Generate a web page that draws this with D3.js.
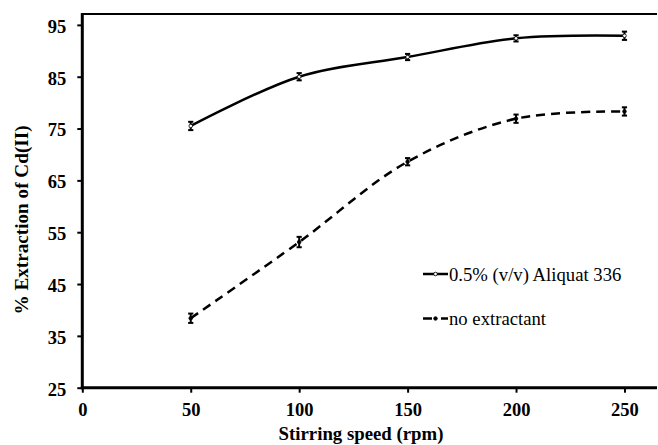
<!DOCTYPE html>
<html>
<head>
<meta charset="utf-8">
<script src="https://cdn.jsdelivr.net/npm/d3@7"></script>
<style>
  html, body { margin: 0; padding: 0; background: #fff; }
  svg { display: block; }
</style>
</head>
<body>
<svg id="chart" width="658" height="445"></svg>
<script>
// Stirring speed (rpm) and % extraction of Cd(II)
const speeds = [50, 100, 150, 200, 250];
const aliquat = [75.5, 85.0, 88.8, 92.4, 92.9];
const aliquatErr = [0.8, 0.7, 0.6, 0.6, 0.8];
const noExtractant = [38.4, 53.1, 68.6, 76.9, 78.3];
const noExtractantErr = [0.9, 1.0, 0.7, 0.8, 0.8];
const xTicks = [0, 50, 100, 150, 200, 250];
const yTicks = [25, 35, 45, 55, 65, 75, 85, 95];
const seriesNames = ["0.5% (v/v) Aliquat 336", "no extractant"];

const svg = d3.select("#chart");
const plotLeft = 82.3, plotRight = 657, plotTop = 14, plotBottom = 387.7;

const x = d3.scaleLinear().domain([0, 265]).range([plotLeft, plotRight]);
const y = d3.scaleLinear().domain([25, 97.1]).range([plotBottom, plotTop]);

const serif = '"Liberation Serif", "Times New Roman", serif';

// Plot frame: top border and axes
svg.append("line").attr("x1", plotLeft).attr("x2", plotRight).attr("y1", plotTop).attr("y2", plotTop)
  .attr("stroke", "#000").attr("stroke-width", 2);

const xAxis = svg.append("g").attr("transform", `translate(0,${plotBottom})`)
  .call(d3.axisBottom(x).tickValues(xTicks).tickSize(5).tickSizeOuter(0).tickPadding(10.5));
const yAxis = svg.append("g").attr("transform", `translate(${plotLeft},0)`)
  .call(d3.axisLeft(y).tickValues(yTicks).tickSize(5).tickSizeOuter(0).tickPadding(11));

[xAxis, yAxis].forEach(g => {
  g.select(".domain").attr("stroke", "#000").attr("stroke-width", 3);
  g.selectAll(".tick line").attr("stroke", "#000").attr("stroke-width", 2);
  g.selectAll(".tick text").attr("fill", "#000")
    .style("font-family", serif).style("font-size", "18.5px").style("font-weight", "bold");
});
yAxis.selectAll(".tick text").attr("dy", "0.4em");
xAxis.select(".domain").attr("d", `M${plotLeft - 1.5},0H${plotRight}`);
yAxis.select(".domain").attr("d", `M0,${plotBottom + 1.5}V${plotTop - 1}`);

// Axis titles
svg.append("text")
  .attr("x", 361).attr("y", 440)
  .attr("text-anchor", "middle")
  .style("font-family", serif).style("font-size", "18.8px").style("font-weight", "bold")
  .text("Stirring speed (rpm)");
svg.append("text")
  .attr("transform", "translate(27.5,220) rotate(-90)")
  .attr("text-anchor", "middle")
  .style("font-family", serif).style("font-size", "19.2px").style("font-weight", "bold")
  .text("% Extraction of Cd(II)");

const line = d3.line().x(d => x(d[0])).y(d => y(d[1])).curve(d3.curveCatmullRom.alpha(0.5));

function drawSeries(values, errs, dash, fillMarker) {
  const pts = speeds.map((s, i) => [s, values[i], errs[i]]);
  svg.append("path").datum(pts)
    .attr("d", line)
    .attr("fill", "none").attr("stroke", "#000").attr("stroke-width", 2.5)
    .attr("stroke-dasharray", dash);
  const g = svg.append("g");
  pts.forEach(p => {
    const cx = x(p[0]);
    g.append("line").attr("x1", cx).attr("x2", cx)
      .attr("y1", y(p[1] - p[2])).attr("y2", y(p[1] + p[2]))
      .attr("stroke", "#000").attr("stroke-width", 2);
    [p[1] - p[2], p[1] + p[2]].forEach(v => {
      g.append("line").attr("x1", cx - 2.6).attr("x2", cx + 2.6)
        .attr("y1", y(v)).attr("y2", y(v))
        .attr("stroke", "#000").attr("stroke-width", 2);
    });
    g.append("circle").attr("cx", cx).attr("cy", y(p[1])).attr("r", 1.8)
      .attr("fill", fillMarker ? "#000" : "#fff").attr("stroke", "#000").attr("stroke-width", 0.8);
  });
}

drawSeries(aliquat, aliquatErr, null, false);
drawSeries(noExtractant, noExtractantErr, "9,6", true);

// Legend
const legend = [
  { label: seriesNames[0], dash: null, fill: "#fff", y: 274 },
  { label: seriesNames[1], dash: "9,9", fill: "#000", y: 318.5 }
];
legend.forEach(d => {
  svg.append("line").attr("x1", 423).attr("x2", 448).attr("y1", d.y).attr("y2", d.y)
    .attr("stroke", "#000").attr("stroke-width", 2.5).attr("stroke-dasharray", d.dash);
  svg.append("circle").attr("cx", 435.5).attr("cy", d.y).attr("r", 1.8)
    .attr("fill", d.fill).attr("stroke", "#000").attr("stroke-width", 0.8);
  svg.append("text").attr("x", 449).attr("y", d.y + 6.5)
    .style("font-family", serif).style("font-size", "18.7px")
    .text(d.label);
});
</script>
</body>
</html>
